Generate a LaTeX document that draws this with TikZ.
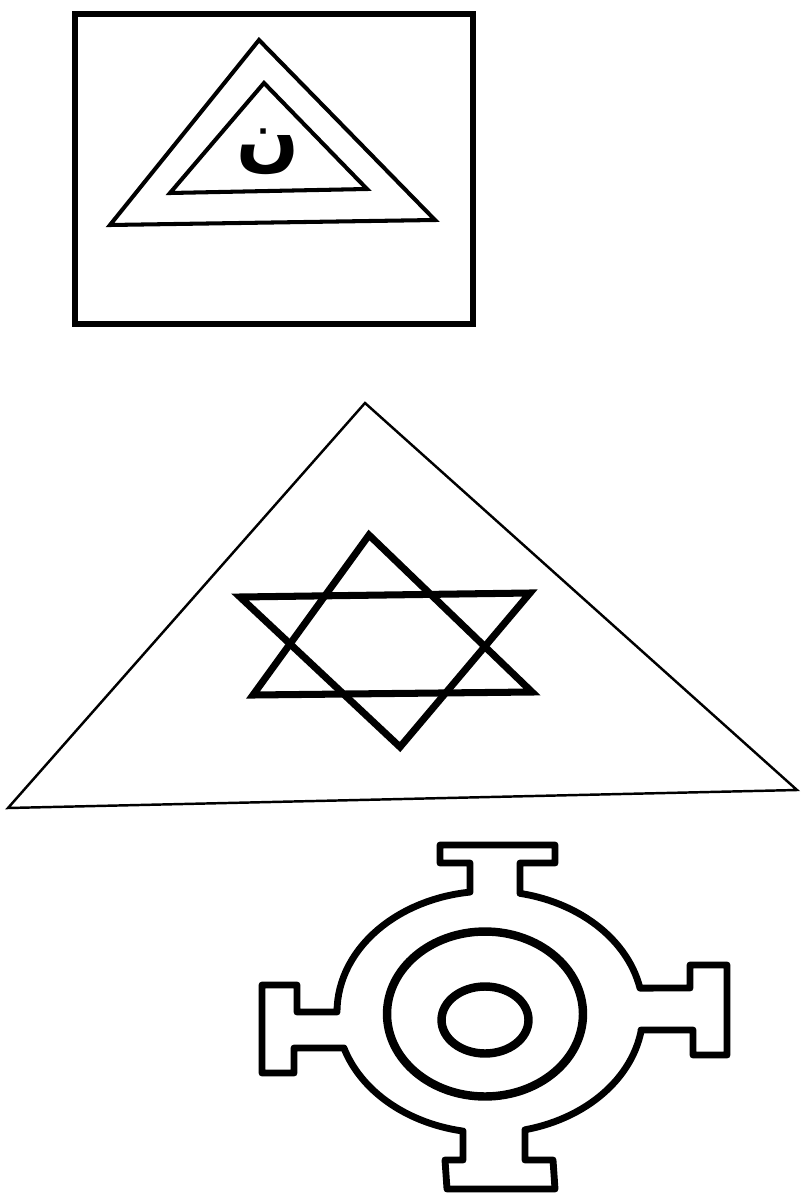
\documentclass[tikz,border=0pt]{standalone}
\usepackage{fontspec}
\usepackage{tikz}
\TeXXeTstate=1
\newfontfamily\arabicfont[Script=Arabic]{DejaVu Sans}
\tikzset{
  marco/.style={line width=3.9pt},
  trazo/.style={line width=2.3pt},
  fino/.style={line width=1.4pt},
  estrella/.style={line width=4pt},
  anillo/.style={line width=3.9pt,line join=round},
  ojo/.style={line width=4.8pt}
}

\begin{document}
\begin{tikzpicture}[x=0.02cm,y=-0.02cm]
    \useasboundingbox (0,0) rectangle (801,1193);
    % el cuadro con los dos triangulos
    \begin{scope}
      \draw[marco] (75,14) rectangle (473,324);
      \draw[trazo] (259,40) -- (110,225) -- (435,220) -- cycle;
      \draw[trazo] (264,83) -- (170,193) -- (367,189) -- cycle;
      \node[inner sep=0pt,font=\arabicfont\bfseries\fontsize{42}{42}\selectfont] (nun) at (268,152) {\beginR ن\endR};
    \end{scope}
    % el triangulo grande con la estrella
    \begin{scope}
      \draw[fino] (365,403) -- (8,808) -- (797,790) -- cycle;
      \draw[estrella] (369,535) -- (253,695) -- (532,692) -- cycle;
      \draw[estrella] (240,597) -- (530,593) -- (400,747) -- cycle;
    \end{scope}
    % el anillo con cuatro bridas
    \begin{scope}
      \draw[anillo] plot[domain=-78.7:-11.4,samples=30] ({490+153*cos(\x)},{1012+121*sin(\x)})
        -- (690,988) -- (690,965) -- (727,965) -- (727,1055) -- (693,1055) -- (693,1030) -- (641,1030)
        -- plot[domain=8.6:76.8,samples=30] ({490+153*cos(\x)},{1012+121*sin(\x)})
        -- (525,1160) -- (553,1160) -- (555,1189) -- (447,1189) -- (445,1160) -- (463,1160) -- (463,1131)
        -- plot[domain=100.2:162.7,samples=30] ({490+153*cos(\x)},{1012+121*sin(\x)})
        -- (294,1048) -- (294,1073) -- (262,1073) -- (262,985) -- (297,985) -- (297,1012) -- (337,1012)
        -- plot[domain=180:262.5,samples=30] ({490+153*cos(\x)},{1012+121*sin(\x)})
        -- (470,863) -- (440,863) -- (440,845) -- (555,845) -- (555,863) -- (520,863) -- cycle;
      \draw[ojo] (485,1014) ellipse[x radius=1.96cm,y radius=1.65cm];
      \draw[ojo] (485,1020) ellipse[x radius=0.87cm,y radius=0.67cm];
    \end{scope}
\end{tikzpicture}
\end{document}
